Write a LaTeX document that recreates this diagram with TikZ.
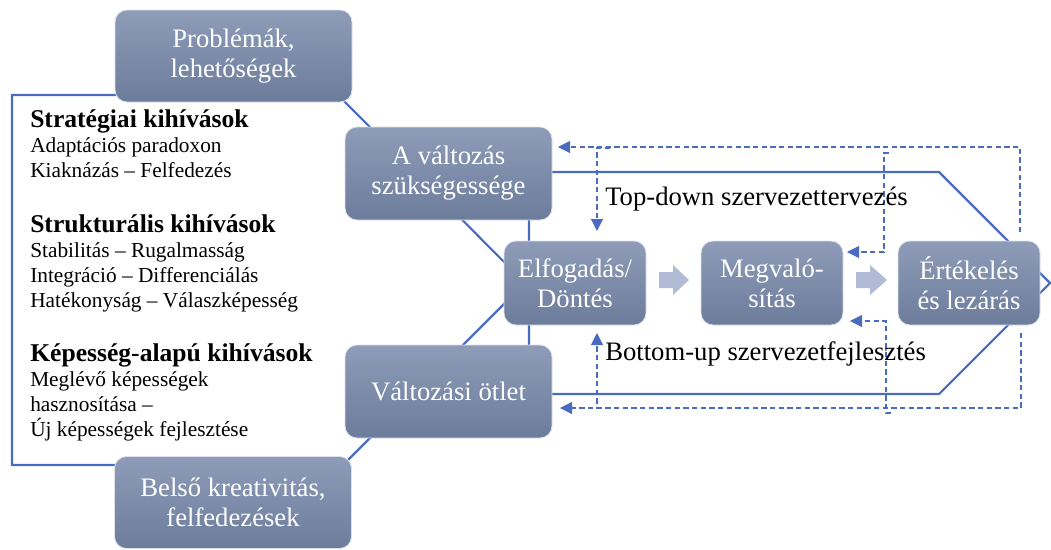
\documentclass[tikz,border=0pt]{standalone}
\usepackage{fontspec}
\setmainfont{Liberation Serif}
\usetikzlibrary{arrows.meta}
\definecolor{outline}{HTML}{4A6CC0}
\definecolor{boxtop}{HTML}{8E9CB8}
\definecolor{boxbot}{HTML}{6C7C9B}
\definecolor{chevfill}{HTML}{B2BBD5}

\begin{document}
\begin{tikzpicture}[x=0.75pt,y=-0.75pt,
  stage/.style={rounded corners=9pt, top color=boxtop, bottom color=boxbot,
    draw=white!70!boxtop, line width=0.6pt, text=white, align=center,
    inner sep=0pt, font=\fontsize{20}{22.5}\selectfont},
  wide/.style={minimum width=177.75pt, minimum height=69pt},
  mid/.style={minimum width=155.25pt, minimum height=69.75pt},
  small/.style={minimum width=106.5pt, minimum height=63pt},
  frame/.style={draw=outline, line width=1.6pt, line join=miter},
  feedback/.style={draw=outline, line width=0.8pt, dash pattern=on 4pt off 2.5pt,
    -{Triangle[length=9pt,width=9pt]}},
  chev/.style={fill=chevfill},
  head/.style={anchor=base west, inner sep=0pt, font=\fontsize{19.2}{22}\selectfont\bfseries},
  item/.style={anchor=base west, inner sep=0pt, font=\fontsize{16}{19}\selectfont},
  flowlabel/.style={anchor=base west, inner sep=0pt, font=\fontsize{20}{22}\selectfont}
]
\useasboundingbox (0,0) rectangle (1051,550);

% outer frame and inner process arrow, behind the boxes
\draw[frame] (12,95) -- (338,95) -- (525,283) -- (343,465) -- (12,465) -- cycle;
\draw[frame] (529,172) -- (939,172) -- (1050,283) -- (939,394) -- (529,394) -- cycle;

% stage boxes
\node[stage, wide] (prob) at (233.5,56) {Problémák,\\lehetőségek};
\node[stage, mid] (need) at (448.5,173.5) {A változás\\szükségessége};
\node[stage, mid] (idea) at (448.5,391.5) {Változási ötlet};
\node[stage, wide] (crea) at (233,502.5) {Belső kreativitás,\\felfedezések};
\node[stage, small] (dec) at (575,283) {Elfogadás/\\Döntés};
\node[stage, small] (impl) at (772,283) {Megvaló-\\sítás};
\node[stage, small] (eval) at (969,283) {Értékelés\\és lezárás};

% block arrows between the process steps
\fill[chev] (659,272) -- ++(14,0) -- ++(0,-7) -- ++(16,15) -- ++(-16,15) -- ++(0,-7) -- ++(-14,0) -- cycle;
\fill[chev] (856,272) -- ++(14,0) -- ++(0,-7) -- ++(17,15) -- ++(-17,15) -- ++(0,-7) -- ++(-14,0) -- cycle;

% top-down feedback
\coordinate (tdStart) at (1020,232);
\coordinate (tdNeed) at (558,147);
\draw[feedback] (tdStart) |- (tdNeed);
\coordinate (tdDecTop) at (610,148);
\coordinate (tdDec) at (597,231);
\draw[feedback] (tdDecTop) -| (tdDec);
\coordinate (tdImplTop) at (889,153);
\coordinate (tdImpl) at (847,252);
\draw[feedback] (tdImplTop) -- (884,153) |- (tdImpl);

% bottom-up feedback
\coordinate (buStart) at (1021,333);
\coordinate (buIdea) at (560,408);
\draw[feedback] (buStart) |- (buIdea);
\coordinate (buDecBot) at (610,408);
\coordinate (buDec) at (597,333);
\draw[feedback] (buDecBot) -| (buDec);
\coordinate (buImplBot) at (891,413);
\coordinate (buImpl) at (850,321);
\draw[feedback] (buImplBot) -- (886,413) |- (buImpl);

\node[flowlabel] (tdlab) at (605,205) {Top-down szervezettervezés};
\node[flowlabel] (bulab) at (605,360) {Bottom-up szervezetfejlesztés};

% challenges listed in the frame
\node[head] (h1) at (30,127) {Stratégiai kihívások};
\node[item] (i11) at (30,152) {Adaptációs paradoxon};
\node[item] (i12) at (30,177) {Kiaknázás – Felfedezés};
\node[head] (h2) at (30,232) {Strukturális kihívások};
\node[item] (i21) at (30,257) {Stabilitás – Rugalmasság};
\node[item] (i22) at (30,282) {Integráció – Differenciálás};
\node[item] (i23) at (30,307) {Hatékonyság – Válaszképesség};
\node[head] (h3) at (30,361) {Képesség-alapú kihívások};
\node[item] (i31) at (30,386) {Meglévő képességek};
\node[item] (i32) at (30,411) {hasznosítása –};
\node[item] (i33) at (30,436) {Új képességek fejlesztése};
\end{tikzpicture}
\end{document}
